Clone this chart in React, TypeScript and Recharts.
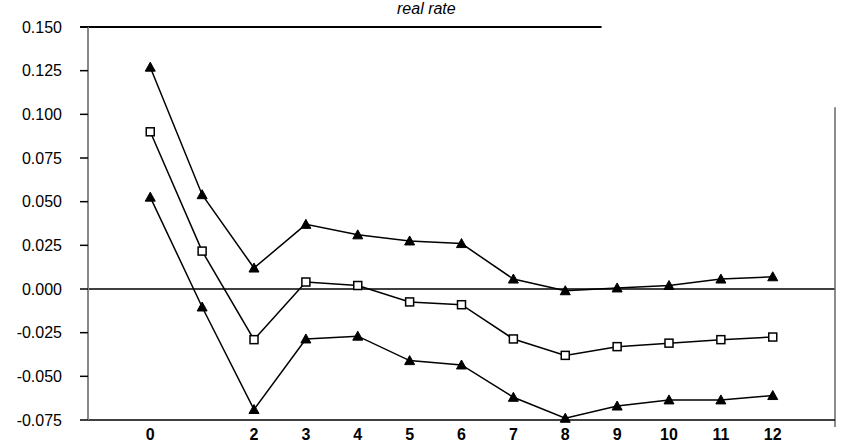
import { LineChart, Line, XAxis, YAxis, ReferenceLine } from "recharts";

const horizons = [0, 1, 2, 3, 4, 5, 6, 7, 8, 9, 10, 11, 12];
const xTicks = [0, 2, 3, 4, 5, 6, 7, 8, 9, 10, 11, 12];
const upperBand = [0.127, 0.054, 0.012, 0.037, 0.031, 0.0275, 0.026, 0.0057, -0.001, 0.0006, 0.002, 0.0057, 0.007];
const response = [0.09, 0.0217, -0.029, 0.004, 0.002, -0.0074, -0.009, -0.0286, -0.038, -0.033, -0.031, -0.029, -0.0275];
const lowerBand = [0.0526, -0.0103, -0.069, -0.0286, -0.027, -0.041, -0.0435, -0.062, -0.074, -0.067, -0.0635, -0.0635, -0.061];
const yTicks = [-0.075, -0.05, -0.025, 0, 0.025, 0.05, 0.075, 0.1, 0.125, 0.15];

const data = horizons.map((h, i) => ({
  h,
  upper: upperBand[i],
  mid: response[i],
  lower: lowerBand[i],
}));

const Triangle = (props: any) => {
  const { cx, cy } = props;
  if (cx == null || cy == null) return null;
  return (
    <polygon
      points={`${cx},${cy - 5} ${cx - 5},${cy + 4} ${cx + 5},${cy + 4}`}
      fill="#000"
      stroke="#000"
      strokeWidth={1}
    />
  );
};

const Square = (props: any) => {
  const { cx, cy } = props;
  if (cx == null || cy == null) return null;
  return (
    <rect x={cx - 4} y={cy - 4} width={8} height={8} fill="#fff" stroke="#000" strokeWidth={1.5} />
  );
};

const font = "'Liberation Sans', Arial, sans-serif";

export default function App() {
  return (
    <div style={{ position: "fixed", left: 0, top: 0, width: 844, height: 444, background: "#fff" }}>
      <div
        style={{
          position: "absolute",
          left: 397,
          top: 0,
          fontFamily: font,
          fontStyle: "italic",
          fontSize: 16,
          color: "#000",
        }}
      >
        real rate
      </div>
      <LineChart width={844} height={444} data={data} margin={{ top: 27, right: 9, bottom: 0, left: 0 }}>
        <XAxis
          dataKey="h"
          type="number"
          domain={[-1.2, 13.2]}
          ticks={xTicks}
          interval={0}
          tickLine={false}
          axisLine={{ stroke: "#000", strokeWidth: 1.5 }}
          height={24}
          tick={{ fill: "#000", fontFamily: font, fontSize: 16, fontWeight: "bold" }}
          tickMargin={3}
        />
        <YAxis
          type="number"
          domain={[-0.075, 0.15]}
          ticks={yTicks}
          interval={0}
          width={88}
          tickSize={8}
          tickLine={{ stroke: "#000", strokeWidth: 1.5 }}
          axisLine={{ stroke: "#888", strokeWidth: 2 }}
          tickFormatter={(v: number) => v.toFixed(3)}
          tick={{ fill: "#000", fontFamily: font, fontSize: 16 }}
          tickMargin={18}
        />
        <ReferenceLine y={0} stroke="#000" strokeWidth={1.5} />
        <ReferenceLine
          segment={[{ x: -1.35, y: 0.15 }, { x: 8.7, y: 0.15 }]}
          stroke="#000"
          strokeWidth={2}
          ifOverflow="visible"
        />
        <ReferenceLine
          segment={[{ x: 13.2, y: 0.104 }, { x: 13.2, y: -0.079 }]}
          stroke="#666"
          strokeWidth={1.5}
          ifOverflow="visible"
        />
        <Line dataKey="upper" stroke="#000" strokeWidth={1.5} dot={<Triangle />} isAnimationActive={false} />
        <Line dataKey="mid" stroke="#000" strokeWidth={1.5} dot={<Square />} isAnimationActive={false} />
        <Line dataKey="lower" stroke="#000" strokeWidth={1.5} dot={<Triangle />} isAnimationActive={false} />
      </LineChart>
    </div>
  );
}
